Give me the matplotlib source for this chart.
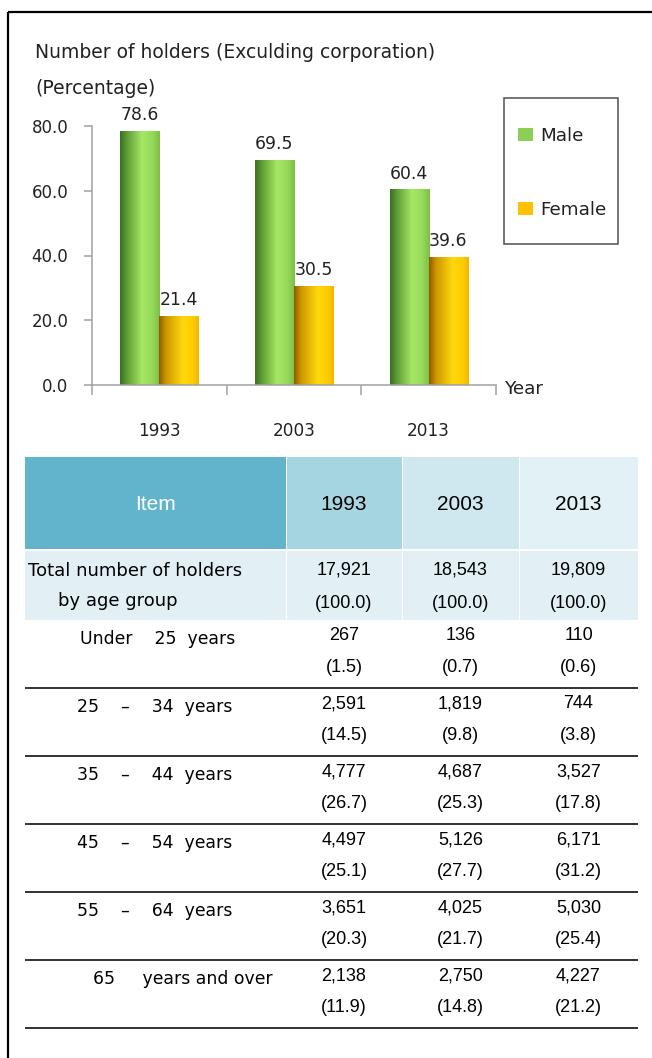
import numpy as np
import matplotlib
matplotlib.use("Agg")
import matplotlib.pyplot as plt
from matplotlib.colors import LinearSegmentedColormap
from matplotlib.patches import Rectangle

# ---------------- data ----------------
years = ["1993", "2003", "2013"]
male = [78.6, 69.5, 60.4]
female = [21.4, 30.5, 39.6]
series_names = ["Male", "Female"]
yticks = [0, 20, 40, 60, 80]

title_line1 = "Number of holders (Exculding corporation)"
title_line2 = "(Percentage)"
xaxis_label = "Year"

header_item = "Item"
total_label = ["Total number of holders", "by age group"]
totals = [17921, 18543, 19809]
total_pct = [100.0, 100.0, 100.0]

age_groups = ["Under    25  years",
              "25    \u2013    34  years",
              "35    \u2013    44  years",
              "45    \u2013    54  years",
              "55    \u2013    64  years",
              "65     years and over"]
counts_1993 = [267, 2591, 4777, 4497, 3651, 2138]
counts_2003 = [136, 1819, 4687, 5126, 4025, 2750]
counts_2013 = [110, 744, 3527, 6171, 5030, 4227]
pct_1993 = [1.5, 14.5, 26.7, 25.1, 20.3, 11.9]
pct_2003 = [0.7, 9.8, 25.3, 27.7, 21.7, 14.8]
pct_2013 = [0.6, 3.8, 17.8, 31.2, 25.4, 21.2]

# ---------------- styles ----------------
W, H = 652, 1058
LBL = ["DejaVu Sans"]
NUM = ["Liberation Sans Narrow", "Liberation Sans", "DejaVu Sans"]
green_cm = LinearSegmentedColormap.from_list(
    "g", [(0, "#3C6E24"), (0.18, "#5E9E35"), (0.55, "#A6E765"), (0.8, "#97DA5A"), (1, "#7DBF46")])
yellow_cm = LinearSegmentedColormap.from_list(
    "y", [(0, "#8E5C00"), (0.18, "#CE9800"), (0.6, "#FFD80C"), (0.85, "#FFCC00"), (1, "#EFB700")])
axis_gray = "#A0A0A0"
TXT = "#222222"

fig = plt.figure(figsize=(W / 100, H / 100), dpi=100)

# overlay in pixel coordinates
ov = fig.add_axes([0, 0, 1, 1])
ov.set_xlim(0, W)
ov.set_ylim(H, 0)
ov.axis("off")

# frame lines
ov.plot([8, 8], [12, H], color="black", lw=1.6, solid_capstyle="butt")
ov.plot([8, W], [12, 12], color="black", lw=1.6, solid_capstyle="butt")

# titles
ov.text(35, 53, title_line1, family=LBL, fontsize=13.5, va="center", ha="left", color=TXT)
ov.text(35, 88, title_line2, family=LBL, fontsize=13.5, va="center", ha="left", color=TXT)
ov.text(505, 389, xaxis_label, family=LBL, fontsize=13.2, va="center", ha="left", color=TXT)

# legend box
ov.add_patch(Rectangle((504, 98), 114, 146, facecolor="white", edgecolor="#505050", lw=1.1))
ov.add_patch(Rectangle((518, 128), 15, 13, facecolor="#8CCF58", edgecolor="none"))
ov.add_patch(Rectangle((518, 202), 15, 13, facecolor="#FFC000", edgecolor="none"))
ov.text(540, 136, series_names[0], family=LBL, fontsize=13.2, va="center", ha="left", color=TXT)
ov.text(540, 210, series_names[1], family=LBL, fontsize=13.2, va="center", ha="left", color=TXT)

# ---------------- bar chart ----------------
ax = fig.add_axes([92 / W, 1 - 385 / H, 404 / W, 259 / H])
ax.patch.set_visible(False)
x = np.arange(len(years))
bw = 0.29
grad = np.linspace(0, 1, 256).reshape(1, -1)
for vals, off, cm in [(male, -bw / 2, green_cm), (female, bw / 2, yellow_cm)]:
    bars = ax.bar(x + off, vals, width=bw, color="none", edgecolor="none", zorder=2)
    for b, v in zip(bars, vals):
        x0 = b.get_x()
        im = ax.imshow(grad, cmap=cm, extent=[x0, x0 + bw, 0, v], aspect="auto",
                       interpolation="bilinear", zorder=2)
        im.set_clip_path(b)
        ax.annotate(f"{v:.1f}", (x0 + bw / 2, v), xytext=(0, 5), textcoords="offset points",
                    ha="center", va="bottom", family=LBL, fontsize=12.4, color=TXT,
                    annotation_clip=False)

ax.set_xlim(-0.5, 2.5)
ax.set_ylim(0, 80)
for s in ["top", "right"]:
    ax.spines[s].set_visible(False)
for s in ["left", "bottom"]:
    ax.spines[s].set_color(axis_gray)
    ax.spines[s].set_linewidth(1.1)
ax.set_yticks(yticks)
ax.set_yticklabels([f"{t:.1f}" for t in yticks], family=LBL, fontsize=12, color=TXT)
ax.tick_params(axis="y", length=6, width=1.1, color=axis_gray, pad=11)
ax.set_xticks(x)
ax.set_xticklabels(years, family=LBL, fontsize=12.2, color=TXT)
ax.tick_params(axis="x", which="major", length=0, pad=27)
ax.set_xticks([-0.5, 0.5, 1.5, 2.5], minor=True)
ax.tick_params(axis="x", which="minor", length=7, width=1.1, color=axis_gray, direction="out")

# ---------------- table ----------------
col_edges = [25, 286, 402, 519, 638]
col_centers = [(col_edges[i] + col_edges[i + 1]) / 2 for i in range(1, 4)]
header_colors = ["#62B4CC", "#A6D5E2", "#CFE8EF", "#E2F1F6"]
hdr_top, hdr_bot = 457, 549
tot_top, tot_bot = 551, 620
for i in range(4):
    l, r = col_edges[i] + (1 if i else 0), col_edges[i + 1]
    ov.add_patch(Rectangle((l, hdr_top), r - l, hdr_bot - hdr_top, facecolor=header_colors[i], edgecolor="none"))
    ov.add_patch(Rectangle((l, tot_top), r - l, tot_bot - tot_top, facecolor="#E2F0F5", edgecolor="none"))

ov.text((col_edges[0] + col_edges[1]) / 2, 505, header_item, family=["Liberation Sans", "DejaVu Sans"],
        fontsize=15, color="white", ha="center", va="center")
for cx, yr in zip(col_centers, years):
    ov.text(cx, 505, yr, family=NUM, fontsize=15, color="black", ha="center", va="center")

ov.text(28, 571, total_label[0], family=LBL, fontsize=13, color="black", ha="left", va="center")
ov.text(58, 601, total_label[1], family=LBL, fontsize=13, color="black", ha="left", va="center")
for cx, t, p in zip(col_centers, totals, total_pct):
    ov.text(cx, 570, f"{t:,}", family=NUM, fontsize=13, color="black", ha="center", va="center")
    ov.text(cx, 604, f"({p:.1f})", family=NUM, fontsize=13, color="black", ha="center", va="center")

row_h = 68
label_x = [80, 77, 77, 77, 77, 93]
cols_counts = [counts_1993, counts_2003, counts_2013]
cols_pct = [pct_1993, pct_2003, pct_2013]
for i, lab in enumerate(age_groups):
    top = tot_bot + i * row_h
    ov.text(label_x[i], top + 19, lab, family=LBL, fontsize=12.4, color="black", ha="left", va="center")
    for cx, cnt, pc in zip(col_centers, cols_counts, cols_pct):
        ov.text(cx, top + 16, f"{cnt[i]:,}", family=NUM, fontsize=13, color="black", ha="center", va="center")
        ov.text(cx, top + 48, f"({pc[i]:.1f})", family=NUM, fontsize=13, color="black", ha="center", va="center")
    ov.plot([col_edges[0], col_edges[-1]], [top + row_h, top + row_h], color="#222222", lw=1.3,
            solid_capstyle="butt")

fig.savefig("out.png", dpi=100)
